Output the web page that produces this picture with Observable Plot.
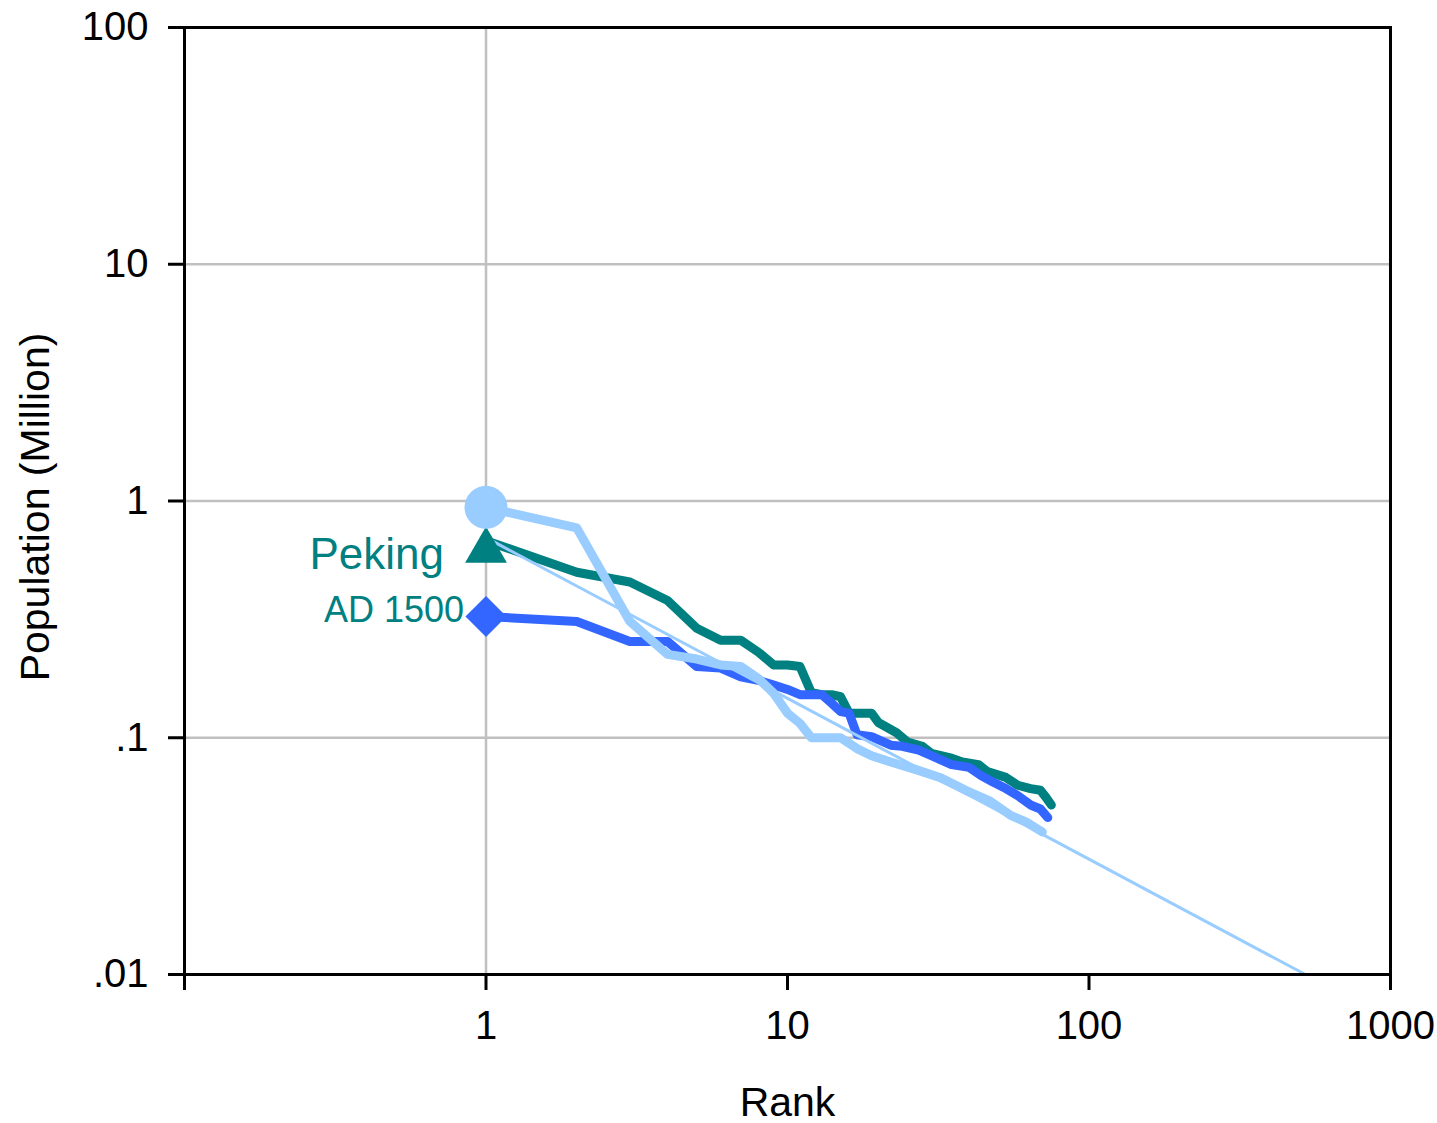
<!DOCTYPE html>
<html><head><meta charset="utf-8">
<script src="https://cdn.jsdelivr.net/npm/d3@7"></script>
<script src="https://cdn.jsdelivr.net/npm/@observablehq/plot@0.6"></script>
<style>html,body{margin:0;padding:0;background:#fff;}</style>
</head><body><div id="chart"></div>
<script>
// Teal series (rank, population in million)
const tealRank = [1,2,3,4,5,6,7,8,9,10,11,12,13,14,15,16,17,18,19,20,23,25,28,30,35,38,43,46,53,58,64,69,72,75];
const tealPop  = [0.68,0.50,0.455,0.38,0.29,0.258,0.258,0.23,0.203,0.203,0.20,0.155,0.152,0.152,0.149,0.127,0.127,0.127,0.127,0.116,0.105,0.096,0.092,0.086,0.082,0.079,0.077,0.072,0.068,0.063,0.061,0.060,0.056,0.052];
// Blue series
const blueRank = [1,2,3,4,5,6,7,8,9,10,11,12,13,14,15,16,17,19,22,24,27,30,35,40,44,48,53,58,64,69,73];
const bluePop  = [0.325,0.31,0.255,0.255,0.20,0.197,0.181,0.175,0.167,0.16,0.152,0.152,0.152,0.14,0.129,0.127,0.103,0.101,0.093,0.092,0.089,0.084,0.077,0.075,0.069,0.065,0.061,0.057,0.052,0.050,0.046];
// Light blue series
const lightRank = [1,2,3,4,5,6,7,8,9,10,11,12,15,17,19,22,27,32,39,47,55,62,70];
const lightPop  = [0.94,0.77,0.31,0.225,0.215,0.203,0.20,0.178,0.154,0.127,0.115,0.10,0.10,0.09,0.084,0.079,0.073,0.068,0.060,0.054,0.047,0.044,0.040];
// Fitted line
const fitRank = [1, 522];
const fitPop  = [0.70, 0.01];

const xTicks = [0.1, 1, 10, 100, 1000];
const xTickLabels = ["", "1", "10", "100", "1000"];
const yTicks = [0.01, 0.1, 1, 10, 100];
const yTickLabels = [".01", ".1", "1", "10", "100"];
const gridY = [0.1, 1, 10];
const gridX = [1];

const noteText = ["Peking", "AD 1500"];
const notePop  = [0.591, 0.345];

const rows = (r, p) => r.map((d, i) => ({rank: d, pop: p[i]}));
const teal = rows(tealRank, tealPop);
const blue = rows(blueRank, bluePop);
const light = rows(lightRank, lightPop);
const fit = rows(fitRank, fitPop);

const TEAL = "#008080", BLUE = "#3366FF", LIGHT = "#99CCFF";

const chart = Plot.plot({
  width: 1437, height: 1123,
  marginLeft: 184, marginRight: 47, marginTop: 27, marginBottom: 149,
  style: {fontFamily: "'Liberation Sans', Arial, sans-serif", background: "#fff", color: "#000", overflow: "visible"},
  x: {type: "log", domain: [0.1, 1000]},
  y: {type: "log", domain: [0.01, 100]},
  marks: [
    Plot.ruleY(gridY, {stroke: "#c0c0c0", strokeWidth: 2.5}),
    Plot.ruleX(gridX, {stroke: "#c0c0c0", strokeWidth: 2.5}),
    Plot.line(teal, {x: "rank", y: "pop", stroke: TEAL, strokeWidth: 9, strokeLinejoin: "round"}),
    Plot.line(blue, {x: "rank", y: "pop", stroke: BLUE, strokeWidth: 9, strokeLinejoin: "round"}),
    Plot.line(light, {x: "rank", y: "pop", stroke: LIGHT, strokeWidth: 9, strokeLinejoin: "round"}),
    Plot.line(fit, {x: "rank", y: "pop", stroke: LIGHT, strokeWidth: 3}),
    Plot.dot([teal[0]], {x: "rank", y: "pop", symbol: "triangle", r: 15.5, fill: TEAL, stroke: "none", dy: 10}),
    Plot.dot([blue[0]], {x: "rank", y: "pop", symbol: "diamond2", r: 18.5, fill: BLUE, stroke: "none"}),
    Plot.dot([light[0]], {x: "rank", y: "pop", symbol: "circle", r: 21.5, fill: LIGHT, stroke: "none"}),
    Plot.text([noteText[0]], {x: () => 1, y: () => notePop[0], text: d => d, textAnchor: "end", dx: -42, fill: TEAL, fontSize: 44}),
    Plot.text([noteText[1]], {x: () => 1, y: () => notePop[1], text: d => d, textAnchor: "end", dx: -22, fill: TEAL, fontSize: 36}),
    Plot.frame({stroke: "#000", strokeWidth: 3}),
    Plot.axisX({ticks: xTicks, tickFormat: d => xTickLabels[xTicks.indexOf(d)], tickSize: 16, tickPadding: 20, fontSize: 40, strokeWidth: 3, label: null}),
    Plot.axisY({ticks: yTicks, tickFormat: d => yTickLabels[yTicks.indexOf(d)], tickSize: 16, tickPadding: 20, fontSize: 40, strokeWidth: 3, label: null}),
    Plot.text(["Rank"], {text: d => d, frameAnchor: "bottom", textAnchor: "middle", lineAnchor: "middle", dy: 128, fontSize: 41}),
    Plot.text(["Population (Million)"], {text: d => d, frameAnchor: "left", textAnchor: "middle", lineAnchor: "middle", rotate: -90, dx: -149, dy: 6, fontSize: 41})
  ]
});
document.getElementById("chart").appendChild(chart);
</script>
</body></html>
